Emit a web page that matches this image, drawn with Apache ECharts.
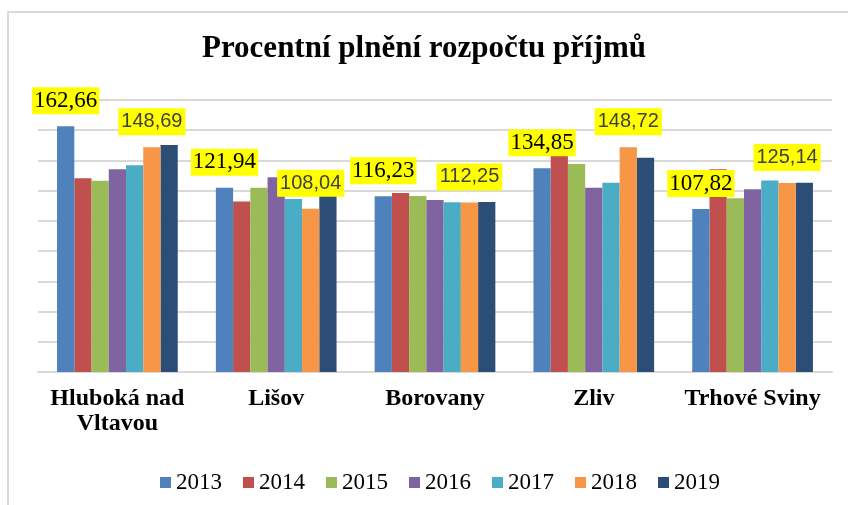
<!DOCTYPE html>
<html>
<head>
<meta charset="utf-8">
<script src="https://cdn.jsdelivr.net/npm/echarts@6/dist/echarts.min.js"></script>
<style>
  html, body { margin: 0; padding: 0; background: #fff; }
  #chart { width: 848px; height: 505px; }
</style>
</head>
<body>
<div id="chart"></div>
<script>
// categories and yearly values (percent)
var categories = ["Hluboká nad\nVltavou", "Lišov", "Borovany", "Zliv", "Trhové Sviny"];
var years = ["2013", "2014", "2015", "2016", "2017", "2018", "2019"];
var v2013 = [162.66, 121.94, 116.23, 134.85, 107.82];
var v2014 = [128.2, 112.9, 118.5, 142.9, 134.1];
var v2015 = [126.6, 122.0, 116.5, 137.6, 114.9];
var v2016 = [134.1, 128.8, 113.9, 122.0, 120.9];
var v2017 = [136.8, 114.5, 112.3, 125.3, 126.8];
var v2018 = [148.69, 108.04, 112.25, 148.72, 125.14];
var v2019 = [150.2, 118.0, 112.5, 141.8, 125.3];
var yTicks = [0, 180, 20]; // min, max, step

var colors = ["#4F81BD", "#C0504D", "#9BBB59", "#8064A2", "#4BACC6", "#F79646", "#2C4D75"];
var values = [v2013, v2014, v2015, v2016, v2017, v2018, v2019];

var SERIF = "'Liberation Serif', 'Times New Roman', serif";
var SANS = "'Liberation Sans', Arial, sans-serif";

function fmt(p)
{
    return p.value.toFixed(2).replace('.', ',');
}

var serifLabel = {
    show: true,
    position: 'top',
    distance: 12,
    formatter: fmt,
    fontFamily: SERIF,
    fontSize: 23,
    lineHeight: 23,
    color: '#000',
    backgroundColor: '#FFFF00',
    padding: [2, 2]
};

var sansLabel = {
    show: true,
    position: 'top',
    distance: 12,
    formatter: fmt,
    fontFamily: SANS,
    fontSize: 20,
    lineHeight: 21,
    color: '#404040',
    backgroundColor: '#FFFF00',
    padding: [3, 3]
};

var series = years.map(function (y, i) {
    var s = {
        name: y,
        type: 'bar',
        barGap: '0%',
        barCategoryGap: '24%',
        itemStyle: { color: colors[i] },
        data: values[i]
    };
    if (i === 0) { s.label = serifLabel; s.z = 5; }
    if (i === 5) { s.label = sansLabel; s.z = 5; }
    return s;
});

var myChart = echarts.init(document.getElementById('chart'));

var option = {
    animation: false,
    color: colors,
    title: {
        text: 'Procentní plnění rozpočtu příjmů',
        left: 'center',
        top: 28,
        textStyle: {
            fontFamily: SERIF,
            fontWeight: 'bold',
            fontSize: 31,
            color: '#000'
        }
    },
    legend: {
        left: 155,
        top: 466,
        icon: 'rect',
        itemWidth: 11,
        itemHeight: 11,
        itemGap: 21,
        textStyle: {
            fontFamily: SERIF,
            fontSize: 23,
            color: '#000'
        }
    },
    grid: { left: 38, right: 16, top: 100, bottom: 133, containLabel: false },
    xAxis: {
        type: 'category',
        data: categories,
        axisTick: { show: false },
        axisLine: { lineStyle: { color: '#d9d9d9', width: 2 } },
        axisLabel: {
            interval: 0,
            margin: 14,
            fontFamily: SERIF,
            fontWeight: 'bold',
            fontSize: 24,
            lineHeight: 25,
            color: '#000'
        }
    },
    yAxis: {
        type: 'value',
        min: yTicks[0],
        max: yTicks[1],
        interval: yTicks[2],
        axisLabel: { show: false },
        axisLine: { show: false },
        axisTick: { show: false },
        splitLine: { lineStyle: { color: '#d9d9d9', width: 2 } }
    },
    graphic: [{
        type: 'polyline',
        shape: { points: [[8, 505], [8, 12], [848, 12]] },
        style: { stroke: '#d9d9d9', lineWidth: 2, fill: null }
    }],
    series: series
};

myChart.setOption(option);
</script>
</body>
</html>
